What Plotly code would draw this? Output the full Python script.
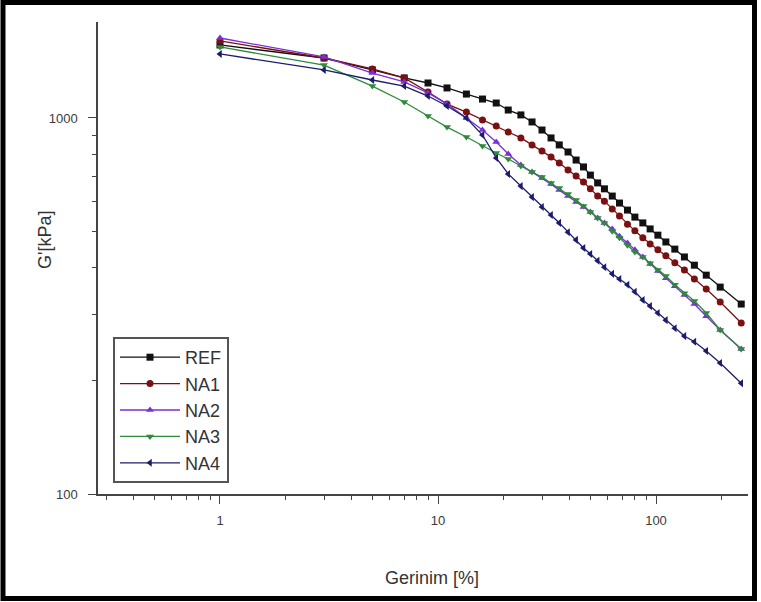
import plotly.graph_objects as go

# Strain sweep: storage modulus G' versus strain
strain = [1, 3, 5, 7, 9, 11, 13.5, 16, 18.5, 21, 24, 27, 30, 33, 36, 39.5, 43, 46.5,
          50, 54, 58, 63, 68, 74, 80, 87, 94, 102, 111, 122, 135, 150, 170, 197, 246]

g_ref = [1564, 1444, 1342, 1278, 1239, 1202, 1158, 1123, 1096, 1050, 1019, 976, 929, 885,
         848, 812, 773, 741, 705, 672, 648, 620, 594, 569, 545, 526, 507, 488, 468, 448,
         427, 406, 382, 355, 320]
g_na1 = [1603, 1444, 1350, 1278, 1173, 1089, 1037, 988, 952, 918, 885, 848, 817, 788,
         759, 727, 701, 676, 648, 620, 601, 573, 549, 522, 501, 480, 462, 446, 430, 412,
         394, 373, 351, 324, 285]
g_na2 = [1632, 1453, 1317, 1247, 1166, 1090, 1000, 929, 863, 802, 750, 718, 692, 667,
         643, 620, 598, 580, 562, 542, 526, 507, 485, 465, 446, 427, 409, 392, 375, 357,
         338, 320, 297, 273, 243]
g_na3 = [1545, 1383, 1216, 1103, 1012, 946, 890, 843, 807, 778, 745, 718, 697, 672,
         651, 628, 605, 583, 562, 542, 526, 500, 480, 459, 440, 427, 411, 394, 380, 360,
         342, 326, 303, 273, 243]
g_na4 = [1480, 1342, 1262, 1216, 1144, 1076, 1000, 901, 783, 710, 659, 616, 580, 552,
         526, 497, 474, 451, 435, 417, 401, 385, 373, 360, 345, 328, 316, 303, 290, 276,
         263, 254, 240, 223, 197]

series = [
    ("REF", g_ref, "#111111", "square"),
    ("NA1", g_na1, "#7a1010", "circle"),
    ("NA2", g_na2, "#7b2fd6", "triangle-up"),
    ("NA3", g_na3, "#2f8a3a", "triangle-down"),
    ("NA4", g_na4, "#1c1c6e", "triangle-left"),
]

x_major = [1, 10, 100]
x_minor = [0.3, 0.4, 0.5, 0.6, 0.7, 0.8, 0.9, 2, 3, 4, 5, 6, 7, 8, 9,
           20, 30, 40, 50, 60, 70, 80, 90, 200]
y_major = [100, 1000]
y_minor = [200, 300, 400, 500, 600, 700, 800, 900]

W, H = 761, 602
L, R, T, B = 98, 13, 22, 108
pw, ph = W - L - R, H - T - B


def px_x(px):
    return (px - L) / pw


def px_y(py):
    return (T + ph - py) / ph


fig = go.Figure()
for name, vals, color, sym in series:
    fig.add_trace(go.Scatter(
        x=strain, y=vals, name=name, mode="lines+markers",
        line=dict(color=color, width=1.3),
        marker=dict(symbol=sym, size=7, color=color, line=dict(width=0)),
    ))

font = "Liberation Sans, Arial, sans-serif"
axis_common = dict(
    type="log", showgrid=False, zeroline=False, showline=True,
    linecolor="#444444", linewidth=1.5, ticks="outside", tickcolor="#444444",
    tickwidth=1.3, ticklen=8, tickfont=dict(family=font, size=13, color="#3a3a3a"),
)

fig.update_layout(
    width=W, height=H, margin=dict(l=L, r=R, t=T, b=B),
    paper_bgcolor="white", plot_bgcolor="white",
    font=dict(family=font, color="#3a3a3a"),
    xaxis=dict(
        **axis_common, range=[-0.5596, 2.422], tickvals=x_major,
        ticktext=[str(v) for v in x_major], ticklabelstandoff=6,
        minor=dict(tickvals=x_minor, ticks="outside", ticklen=4, tickcolor="#444444"),
    ),
    yaxis=dict(
        **axis_common, range=[2, 3.2553], tickvals=y_major,
        ticktext=[str(v) for v in y_major], ticklabelstandoff=8,
        minor=dict(tickvals=y_minor, ticks="outside", ticklen=4, tickcolor="#444444"),
    ),
    legend=dict(
        x=px_x(113), y=px_y(483), xanchor="left", yanchor="bottom",
        bgcolor="white", bordercolor="#555555", borderwidth=2,
        font=dict(family=font, size=18, color="#333333"),
        itemwidth=60, tracegroupgap=0,
    ),
    showlegend=True,
)

# Axis titles
fig.add_annotation(
    text="Gerinim [%]", xref="paper", yref="paper", x=px_x(432), y=px_y(578),
    xanchor="center", yanchor="middle", showarrow=False,
    font=dict(family=font, size=18, color="#333333"),
)
fig.add_annotation(
    text="G'[kPa]", xref="paper", yref="paper", x=px_x(45), y=px_y(240),
    xanchor="center", yanchor="middle", showarrow=False, textangle=-90,
    font=dict(family=font, size=18, color="#333333"),
)

# Heavy outer frame around the whole figure
fig.add_shape(
    type="rect", xref="paper", yref="paper",
    x0=px_x(3), x1=px_x(754.5), y0=px_y(598.5), y1=px_y(2.5),
    line=dict(color="black", width=5), fillcolor="rgba(0,0,0,0)", layer="above",
)

fig.write_html("out.html")
